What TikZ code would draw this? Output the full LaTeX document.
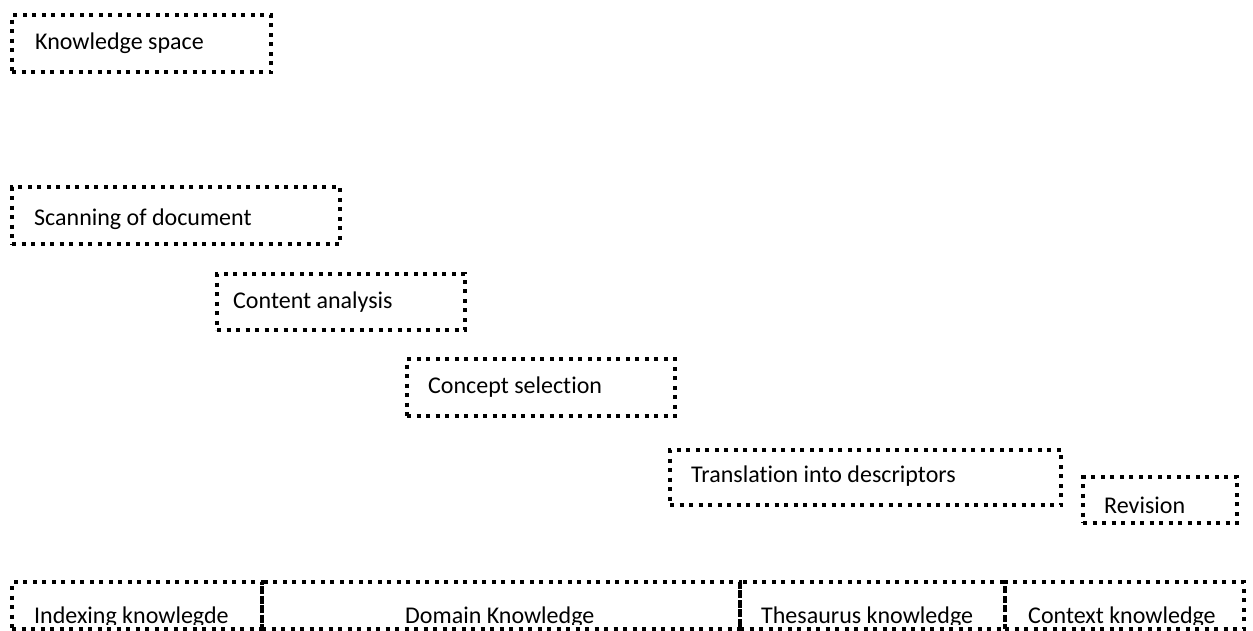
\documentclass[tikz,border=0pt]{standalone}
\usepackage{fontspec}
\setmainfont[Ligatures=NoCommon]{Carlito}
\begin{document}
\begin{tikzpicture}[x=1pt,y=-1pt,
  dotbox/.style={draw=black,line width=4pt,dash pattern=on 4pt off 5.5pt,
    rectangle,inner sep=0pt,anchor=north west},
  lbl/.style={anchor=base west,inner sep=0pt,font=\fontsize{24}{28}\selectfont}]
\useasboundingbox (0,0) rectangle (1253,630);
% process steps
\node[dotbox,minimum width=259pt,minimum height=57pt] (ks) at (10,13) {};
\node[dotbox,minimum width=328pt,minimum height=57pt] (scan) at (10,185) {};
\node[dotbox,minimum width=248pt,minimum height=56pt] (content) at (215,272) {};
\node[dotbox,minimum width=268pt,minimum height=57pt] (concept) at (405,357) {};
\node[dotbox,minimum width=391pt,minimum height=55pt] (trans) at (668,448) {};
\node[dotbox,minimum width=154pt,minimum height=46pt] (rev) at (1081,475) {};
% knowledge row
\node[dotbox,minimum width=250pt,minimum height=47pt] (idx) at (10,580) {};
\node[dotbox,minimum width=478pt,minimum height=47pt] (dom) at (260,580) {};
\node[dotbox,minimum width=265pt,minimum height=47pt] (thes) at (738,580) {};
\node[dotbox,minimum width=239pt,minimum height=47pt] (ctx) at (1003,580) {};
% labels
\node[lbl] (tks) at (35,49) {Knowledge space};
\node[lbl] (tscan) at (34,225) {Scanning of document};
\node[lbl] (tcontent) at (233,308) {Content analysis};
\node[lbl] (tconcept) at (428,393) {Concept selection};
\node[lbl] (ttrans) at (691,482) {Translation into descriptors};
\node[lbl] (trev) at (1104,513) {Revision};
\begin{scope}
  \clip (0,580) rectangle (1253,624);
  \node[lbl] (tidx) at (34,623) {Indexing knowlegde};
  \node[lbl] (tdom) at (405,623) {Domain Knowledge};
  \node[lbl] (tthes) at (761,623) {Thesaurus knowledge};
  \node[lbl] (tctx) at (1028,623) {Context knowledge};
\end{scope}
\end{tikzpicture}
\end{document}
